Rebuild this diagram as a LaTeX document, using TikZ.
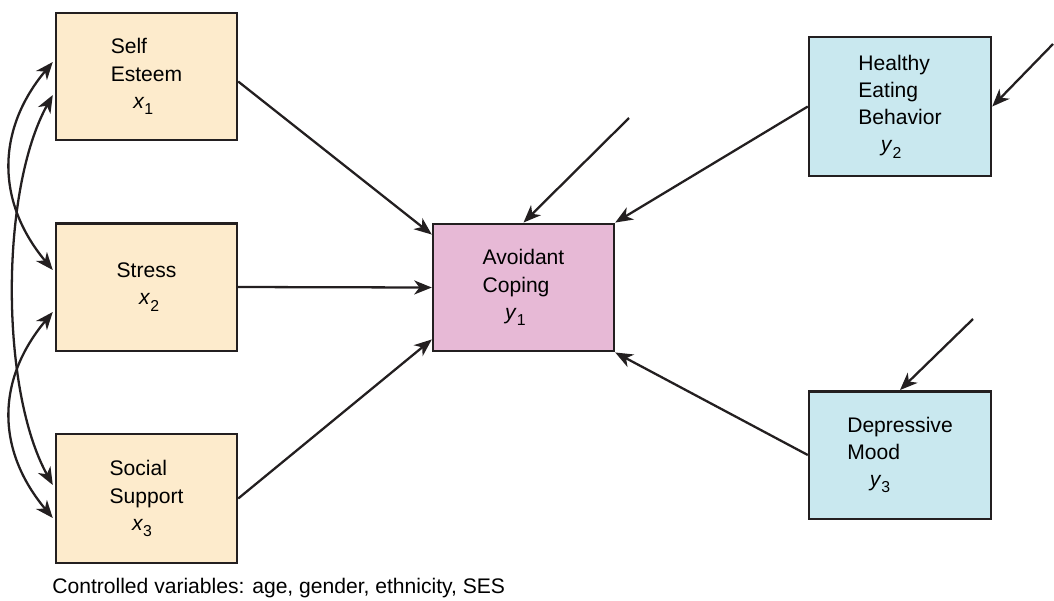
\documentclass[tikz,border=0pt]{standalone}
\usepackage{fontspec}
\setmainfont{Liberation Sans}
\usepackage{xcolor}
\usetikzlibrary{calc,arrows.meta}
\definecolor{boxline}{RGB}{35, 31, 32}
\definecolor{exofill}{RGB}{253, 235, 204}
\definecolor{midfill}{RGB}{231, 185, 214}
\definecolor{endofill}{RGB}{201, 232, 239}
\newcommand{\subvar}[2]{\hspace*{0.45cm}\textit{#1}\raisebox{-0.55ex}{\small #2}}

\begin{document}
\begin{tikzpicture}[x=0.02cm, y=-0.02cm,
    blk/.style={rectangle, draw=boxline, line width=1.4pt,
                minimum width=3.62cm, minimum height=2.55cm,
                align=left, font=\fontsize{12}{15.5}\selectfont},
    arr/.style={-{Stealth[length=10pt, width=8pt, inset=3pt]},
                line width=1.3pt, color=boxline},
    dbl/.style={{Stealth[length=10pt, width=8pt, inset=3pt]}-{Stealth[length=10pt, width=8pt, inset=3pt]},
                line width=1.3pt, color=boxline}]

    \useasboundingbox (0,0) rectangle (1054,600);

    \node[blk, fill=exofill] (se) at (146.5, 76.5) {Self\\Esteem\\\subvar{x}{1}};
    \node[blk, fill=exofill] (st) at (146.5, 287)  {Stress\\\subvar{x}{2}};
    \node[blk, fill=exofill, minimum height=2.58cm] (ss) at (146.5, 498.5) {Social\\Support\\\subvar{x}{3}};
    \node[blk, fill=midfill] (ac) at (523.5, 287.5) {Avoidant\\Coping\\\subvar{y}{1}};
    \node[blk, fill=endofill, minimum width=3.64cm, minimum height=2.78cm] (he) at (900, 106.5) {Healthy\\Eating\\Behavior\\\subvar{y}{2}};
    \node[blk, fill=endofill, minimum width=3.64cm] (dm) at (900, 455) {Depressive\\Mood\\\subvar{y}{3}};

    \node[anchor=base west, inner sep=0pt, font=\fontsize{12}{14}\selectfont] (note) at (52, 593)
        {Controlled variables: age, gender, ethnicity, SES};

    \draw[arr] ($(se.east)+(0,5)$) -- ($(ac.north west)+(0,12)$);
    \draw[arr] (st.east) -- (ac.west);
    \draw[arr] (ss.east) -- ($(ac.south west)+(0,-13)$);
    \draw[arr] (he.west) -- (ac.north east);
    \draw[arr] (dm.west) -- (ac.south east);

    % error terms
    \coordinate (e1) at (629, 118);
    \coordinate (e2) at (1053, 44);
    \coordinate (e3) at (973, 319);
    \draw[arr] (e1) -- (ac.north);
    \draw[arr] (e2) -- (he.east);
    \draw[arr] (e3) -- (dm.north);

    % covariances
    \draw[dbl] ($(se.west)+(-2,-14.5)$) .. controls (-4,130) and (-4,202) .. ($(st.west)+(-2,-17)$);
    \draw[dbl] ($(se.west)+(-2,18.5)$) .. controls (0,190) and (0,390) .. ($(ss.west)+(-2,-13.5)$);
    \draw[dbl] ($(st.west)+(-2,25)$) .. controls (-4,380) and (-4,450) .. ($(ss.west)+(-2,19.5)$);

\end{tikzpicture}
\end{document}
